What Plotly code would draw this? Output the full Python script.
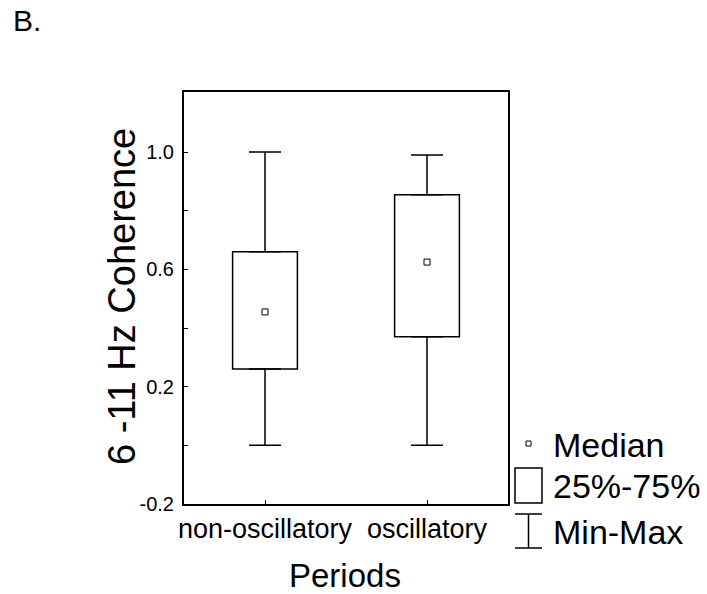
import plotly.graph_objects as go

categories = ["non-oscillatory", "oscillatory"]
mins = [0.0, 0.0]
q1 = [0.26, 0.37]
medians = [0.455, 0.625]
q3 = [0.66, 0.855]
maxs = [1.0, 0.99]

ytickvals = [-0.2, 0.0, 0.2, 0.4, 0.6, 0.8, 1.0]
yticktext = ["-0.2", "", "0.2", "", "0.6", "", "1.0"]

FONT = "Arial, Liberation Sans, sans-serif"
W, H = 707, 594
L, R, T, B = 184, 508, 92, 504

def px(x):
    return (x - L) / (R - L)

def py(y):
    return (B - y) / (B - T)

fig = go.Figure()

# boxes (25%-75%)
fig.add_trace(go.Bar(
    x=categories, y=[b - a for a, b in zip(q1, q3)], base=q1, width=0.4,
    marker=dict(color="white", line=dict(color="black", width=1.5)),
    showlegend=False, hoverinfo="skip"))

# upper whiskers
fig.add_trace(go.Scatter(
    x=categories, y=q3, mode="markers",
    marker=dict(size=1, color="rgba(0,0,0,0)"),
    error_y=dict(type="data", symmetric=False,
                 array=[m - b for m, b in zip(maxs, q3)], arrayminus=[0, 0],
                 width=16, thickness=1.5, color="black"),
    showlegend=False, hoverinfo="skip"))

# lower whiskers
fig.add_trace(go.Scatter(
    x=categories, y=q1, mode="markers",
    marker=dict(size=1, color="rgba(0,0,0,0)"),
    error_y=dict(type="data", symmetric=False,
                 array=[0, 0], arrayminus=[a - m for a, m in zip(q1, mins)],
                 width=16, thickness=1.5, color="black"),
    showlegend=False, hoverinfo="skip"))

# medians
fig.add_trace(go.Scatter(
    x=categories, y=medians, mode="markers",
    marker=dict(symbol="square-open", size=6, color="black", line=dict(width=1)),
    showlegend=False, hoverinfo="skip"))

fig.update_layout(
    width=W, height=H,
    margin=dict(l=L, r=W - R, t=T, b=H - B),
    paper_bgcolor="white", plot_bgcolor="white",
    font=dict(family=FONT, color="black"),
    showlegend=False,
    xaxis=dict(
        type="category", range=[-0.5, 1.5],
        showline=True, linecolor="black", linewidth=2, mirror=True,
        ticks="inside", ticklen=4, tickcolor="black",
        showgrid=False, zeroline=False,
        tickfont=dict(size=27, family=FONT, color="black"),
    ),
    yaxis=dict(
        range=[-0.2, 1.205],
        showline=True, linecolor="black", linewidth=2, mirror=True,
        tickvals=ytickvals, ticktext=yticktext,
        ticks="inside", ticklen=4, tickcolor="black",
        showgrid=False, zeroline=False,
        tickfont=dict(size=20, family=FONT, color="black"),
        ticklabelstandoff=4,
    ),
)

ann = []
ann.append(dict(text="B.", x=px(11), y=py(21), xref="paper", yref="paper",
                xanchor="left", yanchor="middle", showarrow=False,
                font=dict(size=30, family=FONT, color="black")))
ann.append(dict(text="6 -11 Hz Coherence", x=px(122), y=py(297), xref="paper", yref="paper",
                xanchor="center", yanchor="middle", textangle=-90, showarrow=False,
                font=dict(size=38, family=FONT, color="black")))
ann.append(dict(text="Periods", x=px(345), y=py(575), xref="paper", yref="paper",
                xanchor="center", yanchor="middle", showarrow=False,
                font=dict(size=33, family=FONT, color="black")))
for label, yc in [("Median", 445), ("25%-75%", 486), ("Min-Max", 532)]:
    ann.append(dict(text=label, x=px(551), y=py(yc), xref="paper", yref="paper",
                    xanchor="left", yanchor="middle", showarrow=False,
                    font=dict(size=34, family=FONT, color="black")))
fig.update_layout(annotations=ann)

shapes = []
# legend median marker
shapes.append(dict(type="rect", xref="paper", yref="paper",
                   x0=px(526), x1=px(531), y0=py(446), y1=py(441),
                   line=dict(color="black", width=1)))
# legend box
shapes.append(dict(type="rect", xref="paper", yref="paper",
                   x0=px(515), x1=px(542), y0=py(503), y1=py(468),
                   line=dict(color="black", width=1.5)))
# legend whisker
shapes.append(dict(type="line", xref="paper", yref="paper",
                   x0=px(515), x1=px(542), y0=py(514), y1=py(514),
                   line=dict(color="black", width=1.5)))
shapes.append(dict(type="line", xref="paper", yref="paper",
                   x0=px(515), x1=px(542), y0=py(548), y1=py(548),
                   line=dict(color="black", width=1.5)))
shapes.append(dict(type="line", xref="paper", yref="paper",
                   x0=px(528.5), x1=px(528.5), y0=py(514), y1=py(548),
                   line=dict(color="black", width=1.5)))
fig.update_layout(shapes=shapes)

fig.write_html("out.html")
